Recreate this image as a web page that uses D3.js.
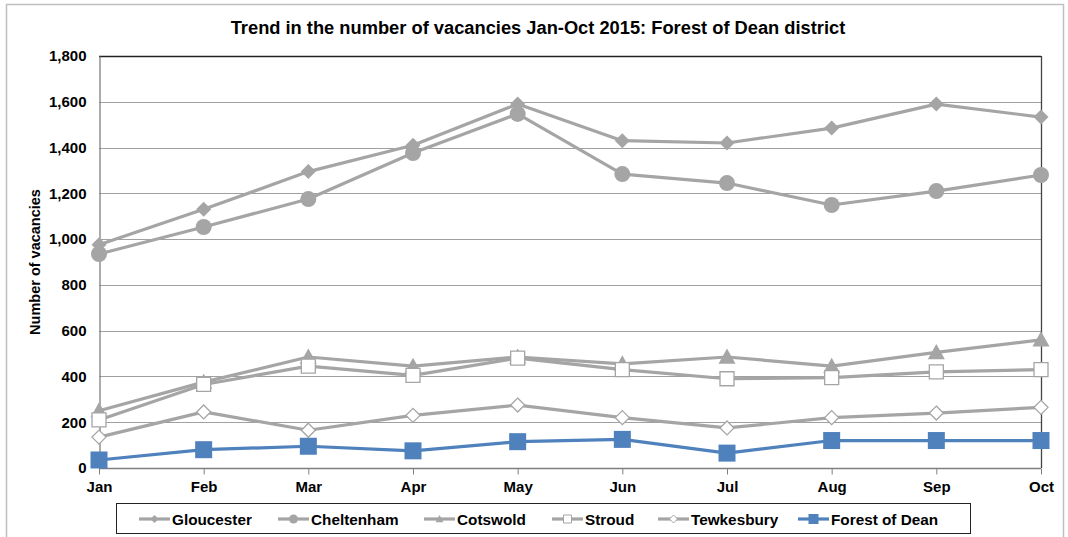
<!DOCTYPE html>
<html><head><meta charset="utf-8">
<script src="https://cdn.jsdelivr.net/npm/d3@7/dist/d3.min.js"></script>
<style>body{margin:0;background:#fff}svg{display:block}text{font-family:"Liberation Sans",Arial,sans-serif;font-weight:bold;fill:#000}</style>
</head><body>
<script>
const months = ["Jan","Feb","Mar","Apr","May","Jun","Jul","Aug","Sep","Oct"];
const gloucester = [975,1130,1295,1410,1590,1430,1420,1485,1590,1533];
const cheltenham = [935,1053,1175,1376,1547,1284,1245,1149,1210,1280];
const cotswold = [250,375,485,445,485,455,485,445,505,560];
const stroud = [210,365,445,405,480,430,390,395,420,430];
const tewkesbury = [135,245,165,230,275,220,175,220,240,265];
const forestOfDean = [35,80,95,75,115,125,65,120,120,120];
const yTicks = [0,200,400,600,800,1000,1200,1400,1600,1800];
const seriesNames = ["Gloucester","Cheltenham","Cotswold","Stroud","Tewkesbury","Forest of Dean"];

const series = [
  {name:seriesNames[0], values:gloucester, color:"#A5A5A5", marker:"diamond", fill:true},
  {name:seriesNames[1], values:cheltenham, color:"#A5A5A5", marker:"circle", fill:true},
  {name:seriesNames[2], values:cotswold, color:"#A5A5A5", marker:"triangle", fill:true},
  {name:seriesNames[3], values:stroud, color:"#A5A5A5", marker:"square", fill:false},
  {name:seriesNames[4], values:tewkesbury, color:"#A5A5A5", marker:"diamond", fill:false},
  {name:seriesNames[5], values:forestOfDean, color:"#4F81BD", marker:"square", fill:true}
];

const W=1068,H=537;
const svg=d3.select("body").append("svg").attr("width",W).attr("height",H);
svg.append("rect").attr("x",6.5).attr("y",4.5).attr("width",1057).attr("height",540).attr("fill","#fff").attr("stroke","#BFBFBF").attr("stroke-width",1.5);

const L=99,R=1041,T=56,B=468;
const x=d3.scalePoint().domain(months).range([L,R]);
const y=d3.scaleLinear().domain([0,1800]).range([B,T]);

svg.append("text").attr("x",538).attr("y",34).attr("text-anchor","middle").style("font-size","18.3px").text("Trend in the number of vacancies Jan-Oct 2015: Forest of Dean district");

// gridlines
svg.append("g").selectAll("line").data(yTicks.slice(1)).join("line")
  .attr("x1",L).attr("x2",R).attr("y1",d=>Math.round(y(d))+0.5).attr("y2",d=>Math.round(y(d))+0.5)
  .attr("stroke","#A0A0A0").attr("stroke-width",1.2);
// top frame
svg.append("line").attr("x1",L).attr("x2",R).attr("y1",T+0.5).attr("y2",T+0.5).attr("stroke","#222").attr("stroke-width",1.3);
svg.append("line").attr("x1",R+0.5).attr("x2",R+0.5).attr("y1",T).attr("y2",B).attr("stroke","#444").attr("stroke-width",1.3);

// y axis
const yAxis=d3.axisLeft(y).tickValues(yTicks).tickSize(0).tickPadding(13).tickFormat(d3.format(","));
const gy=svg.append("g").attr("transform",`translate(${L+0.5},0)`).call(yAxis);
gy.select(".domain").attr("stroke","#7F7F7F").attr("stroke-width",1.3);
gy.selectAll("text").style("font-size","15px").style("font-family","'Liberation Sans',Arial,sans-serif").attr("font-weight","bold");

// x axis
const xAxis=d3.axisBottom(x).tickSize(6).tickPadding(5);
const gx=svg.append("g").attr("transform",`translate(0,${B+0.5})`).call(xAxis);
gx.select(".domain").attr("stroke","#7F7F7F").attr("stroke-width",1.3).attr("d",`M${L},0H${R}`);
gx.selectAll(".tick line").attr("stroke","#7F7F7F");
gx.selectAll("text").style("font-size","15px").style("font-family","'Liberation Sans',Arial,sans-serif").attr("font-weight","bold").attr("dy","0.85em");

svg.append("text").attr("transform","translate(40,262) rotate(-90)").attr("text-anchor","middle").style("font-size","14.5px").text("Number of vacancies");

function markerPath(type,s){
  const h=s/2;
  if(type==="diamond") return `M0,${-h}L${h},0L0,${h}L${-h},0Z`;
  if(type==="square") return `M${-h},${-h}H${h}V${h}H${-h}Z`;
  if(type==="triangle") return `M0,${-h}L${h},${h*0.8}L${-h},${h*0.8}Z`;
  return d3.symbol(d3.symbolCircle, Math.PI*h*h)();
}
const sizes={diamond:15,circle:16,triangle:17,square:15};
const line=d3.line().x((d,i)=>x(months[i])).y(d=>y(d));

series.forEach(s=>{
  const g=svg.append("g");
  g.append("path").datum(s.values).attr("d",line).attr("fill","none").attr("stroke",s.color).attr("stroke-width",3.2).attr("stroke-linejoin","round");
  const sz = (s.name==="Forest of Dean")?17:(s.fill?sizes[s.marker]:sizes[s.marker]-1);
  g.selectAll("path.m").data(s.values).join("path").attr("class","m")
   .attr("transform",(d,i)=>`translate(${x(months[i])},${y(d)})`)
   .attr("d",markerPath(s.marker,sz))
   .attr("fill",s.fill?s.color:"#fff")
   .attr("stroke",s.fill?"none":s.color).attr("stroke-width",1.3);
});

// legend
const lg=svg.append("g");
lg.append("rect").attr("x",116.5).attr("y",503.5).attr("width",854).attr("height",30).attr("fill","#fff").attr("stroke","#222").attr("stroke-width",1);
const legX=[139,278,424,552,658,798];
series.forEach((s,i)=>{
  const gx0=legX[i], cy=519;
  lg.append("line").attr("x1",gx0).attr("x2",gx0+31).attr("y1",cy).attr("y2",cy).attr("stroke",s.color).attr("stroke-width",3.2);
  const sz=s.name==="Forest of Dean"?10:(s.marker==="circle"?9:8);
  lg.append("path").attr("transform",`translate(${gx0+15.5},${cy})`).attr("d",markerPath(s.marker,sz))
    .attr("fill",s.fill?s.color:"#fff").attr("stroke",s.fill?"none":s.color).attr("stroke-width",1);
  lg.append("text").attr("x",gx0+33).attr("y",cy+5.5).style("font-size","15.3px").text(s.name);
});
</script>
</body></html>
